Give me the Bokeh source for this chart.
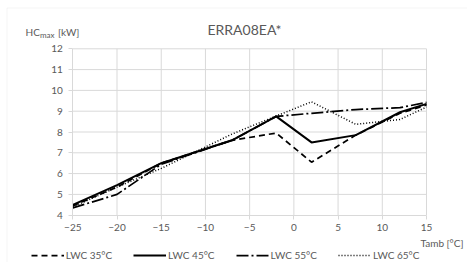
from bokeh.plotting import figure
from bokeh.models import (ColumnDataSource, Legend, LegendItem, Label, FixedTicker,
                          Range1d, BoxAnnotation)
from bokeh.embed import file_html
from bokeh.resources import INLINE

title_text = "ERRA08EA*"
x_label = "Tamb [°C]"
tamb = [-25, -20, -15, -7, -2, 2, 7, 12, 15]
lwc35 = [4.45, 5.35, 6.5, 7.6, 7.95, 6.55, 7.85, 8.9, 9.3]
lwc45 = [4.5, 5.45, 6.5, 7.6, 8.75, 7.5, 7.85, 8.95, 9.35]
lwc55 = [4.35, 5.0, 6.45, 7.6, 8.75, 8.9, 9.08, 9.17, 9.42]
lwc65 = [4.4, 5.35, 6.25, 7.9, 8.77, 9.45, 8.37, 8.6, 9.2]
series_names = ["LWC 35°C", "LWC 45°C", "LWC 55°C", "LWC 65°C"]
x_ticks = [-25, -20, -15, -10, -5, 0, 5, 10, 15]
y_ticks = [4, 5, 6, 7, 8, 9, 10, 11, 12]

FONT = "Lato"
GRAY = "#595959"
GRID = "#d9d9d9"
W, H = 467, 262
# plot-area pixel box inside the canvas
PL, PR, PT, PB = 72.3, 426.0, 48.3, 214.7
xmin, xmax = x_ticks[0], x_ticks[-1]
ymin, ymax = y_ticks[0], y_ticks[-1]
kx = (PR - PL) / (xmax - xmin)
ky = (PB - PT) / (ymax - ymin)
x_range = Range1d(xmin - PL / kx, xmax + (W - PR) / kx)
y_range = Range1d(ymin - (H - PB) / ky, ymax + PT / ky)

p = figure(width=W, height=H, output_backend="svg", toolbar_location=None,
           x_range=x_range, y_range=y_range,
           min_border_left=0, min_border_right=0, min_border_top=0, min_border_bottom=0)
p.title.visible = False
p.outline_line_color = None
p.xgrid.visible = False
p.ygrid.visible = False

for ax in (p.xaxis[0], p.yaxis[0]):
    ax.axis_line_color = GRID
    ax.major_tick_line_color = GRID
    ax.major_tick_out = 4
    ax.major_tick_in = 0
    ax.minor_tick_line_color = None
    ax.major_label_text_font = FONT
    ax.major_label_text_font_size = "10px"
    ax.major_label_text_color = GRAY
p.xaxis[0].ticker = FixedTicker(ticks=x_ticks)
p.yaxis[0].ticker = FixedTicker(ticks=y_ticks)
p.xaxis[0].fixed_location = ymin
p.yaxis[0].fixed_location = xmin
p.xaxis[0].bounds = (xmin, xmax)
p.yaxis[0].bounds = (ymin, ymax)
p.xaxis[0].major_label_standoff = 5
p.yaxis[0].major_label_standoff = 6

# gridlines, limited to the plot area
p.segment(x0=x_ticks[1:], y0=[ymin] * (len(x_ticks) - 1), x1=x_ticks[1:], y1=[ymax] * (len(x_ticks) - 1),
          line_color=GRID, line_width=1)
p.segment(x0=[xmin] * (len(y_ticks) - 1), y0=y_ticks[1:], x1=[xmax] * (len(y_ticks) - 1), y1=y_ticks[1:],
          line_color=GRID, line_width=1)

styles = [
    dict(line_dash="6 4", line_width=1.75),
    dict(line_dash="solid", line_width=2),
    dict(line_dash="12 3 2 3", line_width=1.75),
    dict(line_dash="1 2", line_width=1.5),
]
items = []
for name, ys, st in zip(series_names, [lwc35, lwc45, lwc55, lwc65], styles):
    src = ColumnDataSource(dict(x=tamb, y=ys))
    r = p.line("x", "y", source=src, line_color="black", **st)
    items.append(LegendItem(label=name, renderers=[r]))

legend = Legend(items=items, orientation="horizontal", location=(30.7, 1),
                glyph_width=33, glyph_height=10, label_height=10, label_standoff=2,
                spacing=21, padding=0, margin=0, border_line_color=None,
                background_fill_alpha=0, label_text_font=FONT,
                label_text_font_size="10px", label_text_color=GRAY)
p.add_layout(legend, "center")

def add_text(x, y, text, size, align="left"):
    # x from the canvas left, y from the canvas top (converted to bottom-up screen units)
    p.add_layout(Label(x=x, y=H - y, x_units="screen", y_units="screen", text=text,
                       text_font=FONT, text_font_size=size, text_color=GRAY,
                       text_align=align, text_baseline="middle"))

add_text(244, 29, title_text, "14px", "center")
add_text(463, 242, x_label, "10px", "right")
add_text(25, 31, "HC", "10px")
add_text(39.5, 34.5, "max", "8px")
add_text(57.5, 31, "[kW]", "10px")

p.add_layout(BoxAnnotation(left=6.5, right=W + 20, top=H - 7.5, bottom=-20,
                           left_units="screen", right_units="screen",
                           top_units="screen", bottom_units="screen",
                           fill_alpha=0, line_color=GRID, line_width=1))

open("out.html", "w").write(file_html(p, INLINE))
